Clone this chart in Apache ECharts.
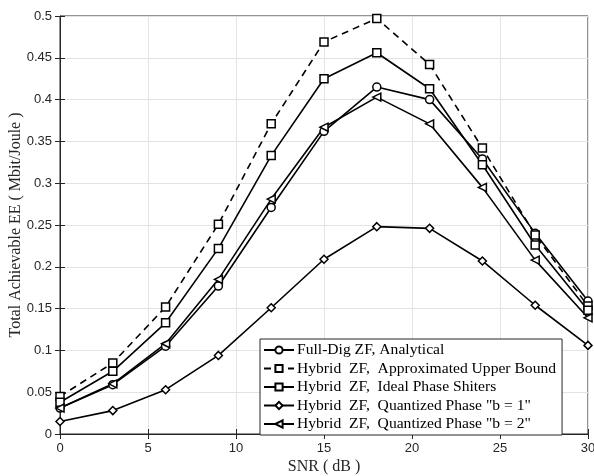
<!DOCTYPE html>
<html>
<head>
<meta charset="utf-8">
<script src="https://cdn.jsdelivr.net/npm/echarts@6/dist/echarts.min.js"></script>
<style>
  html, body { margin: 0; padding: 0; background: #fff; }
  #chart { width: 594px; height: 476px; }
</style>
</head>
<body>
<div id="chart"></div>
<script>
// SNR points (dB)
var snr = [0, 3, 6, 9, 12, 15, 18, 21, 24, 27, 30];

// energy efficiency, Mbit/Joule
var fullDig   = [0.031, 0.059, 0.105, 0.177, 0.271, 0.362, 0.415, 0.400, 0.329, 0.240, 0.159];
var upperBnd  = [0.045, 0.085, 0.152, 0.251, 0.371, 0.469, 0.497, 0.442, 0.342, 0.238, 0.153];
var idealPS   = [0.038, 0.075, 0.133, 0.222, 0.333, 0.425, 0.456, 0.413, 0.322, 0.226, 0.148];
var quantB1   = [0.015, 0.028, 0.053, 0.094, 0.151, 0.209, 0.248, 0.246, 0.207, 0.154, 0.106];
var quantB2   = [0.031, 0.060, 0.108, 0.185, 0.281, 0.367, 0.403, 0.371, 0.295, 0.208, 0.139];

var names = [
  'Full-Dig ZF, Analytical',
  'Hybrid  ZF,  Approximated Upper Bound',
  'Hybrid  ZF,  Ideal Phase Shiters',
  'Hybrid  ZF,  Quantized Phase "b = 1"',
  'Hybrid  ZF,  Quantized Phase "b = 2"'
];

function pairs(ys) {
  return snr.map(function (x, i) { return [x, ys[i]]; });
}

function mk(name, ys, symbol, dashed, rot) {
  return {
    name: name,
    type: 'line',
    data: pairs(ys),
    symbol: symbol,
    symbolSize: 8,
    symbolRotate: rot || 0,
    showAllSymbol: true,
    lineStyle: { color: '#000', width: 1.6, type: dashed ? [7, 5] : 'solid' },
    itemStyle: { color: '#fff', borderColor: '#000', borderWidth: 1.5 },
    emphasis: { disabled: true },
    z: 3
  };
}

var axisLabel = { color: '#262626', fontFamily: 'Liberation Sans', fontSize: 13 };

var chart = echarts.init(document.getElementById('chart'));
chart.setOption({
  animation: false,
  backgroundColor: '#fff',
  grid: {
    left: 60, top: 16, right: 6, bottom: 42,
    outerBoundsMode: 'none', containLabel: false,
    show: true, borderColor: '#262626', borderWidth: 1
  },
  legend: {
    orient: 'vertical',
    left: 260,
    top: 339,
    padding: [3, 6, 3, 3],
    itemGap: 2.5,
    itemWidth: 30,
    itemHeight: 9,
    backgroundColor: '#fff',
    borderColor: '#262626',
    borderWidth: 1,
    borderRadius: 0,
    textStyle: { color: '#000', fontFamily: 'Liberation Serif', fontSize: 15.6, lineHeight: 15.6, padding: [0, 0, 0, -2] },
    data: names
  },
  xAxis: [{
    type: 'value',
    min: 0, max: 30, interval: 5,
    name: 'SNR ( dB )',
    nameLocation: 'middle',
    nameGap: 25,
    nameMoveOverlap: false,
    nameTextStyle: { color: '#262626', fontFamily: 'Liberation Serif', fontSize: 16 },
    axisLine: { show: true, lineStyle: { color: '#262626' } },
    axisTick: { show: true, inside: true, length: 5, lineStyle: { color: '#262626' } },
    axisLabel: axisLabel,
    splitLine: { show: true, lineStyle: { color: '#e3e3e3' } }
  }, {
    type: 'value', position: 'top',
    min: 0, max: 30, interval: 5,
    axisLine: { show: false },
    axisTick: { show: true, inside: true, length: 5, lineStyle: { color: '#262626' } },
    axisLabel: { show: false },
    splitLine: { show: false }
  }],
  yAxis: [{
    type: 'value',
    min: 0, max: 0.5, interval: 0.05,
    name: 'Total Achievable EE ( Mbit/Joule )',
    nameLocation: 'middle',
    nameGap: 36,
    nameMoveOverlap: false,
    nameTextStyle: { color: '#262626', fontFamily: 'Liberation Serif', fontSize: 16 },
    axisLine: { show: true, lineStyle: { color: '#262626' } },
    axisTick: { show: true, inside: true, length: 5, lineStyle: { color: '#262626' } },
    axisLabel: axisLabel,
    splitLine: { show: true, lineStyle: { color: '#e3e3e3' } }
  }, {
    type: 'value', position: 'right',
    min: 0, max: 0.5, interval: 0.05,
    axisLine: { show: false },
    axisTick: { show: true, inside: true, length: 5, lineStyle: { color: '#262626' } },
    axisLabel: { show: false },
    splitLine: { show: false }
  }],
  series: [
    mk(names[0], fullDig, 'circle', false),
    mk(names[1], upperBnd, 'rect', true),
    mk(names[2], idealPS, 'rect', false),
    mk(names[3], quantB1, 'diamond', false),
    mk(names[4], quantB2, 'triangle', false, 90)
  ]
});
</script>
</body>
</html>
